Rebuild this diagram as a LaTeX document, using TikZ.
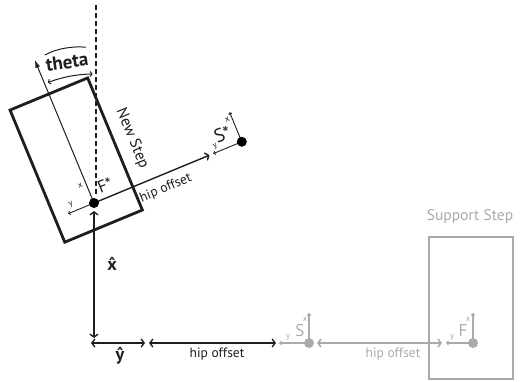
\documentclass[tikz,border=0pt]{standalone}
\usepackage{fontspec}
\setmainfont{PT Sans}
\usetikzlibrary{arrows.meta,calc}
\definecolor{sgray}{RGB}{170,170,170}
\definecolor{ink}{RGB}{30,30,30}
\newcommand\hatchar[1]{\leavevmode\accent"02C6 #1}
\begin{document}
\begin{tikzpicture}[x=1pt,y=-1pt,
  barb/.tip={Straight Barb[length=3pt,width=8pt]},
  smallbarb/.tip={Straight Barb[length=1.6pt,width=3.4pt]},
  dimarrow/.style={draw=ink,line width=1.4pt,{barb}-{barb}},
  onearrow/.style={draw=ink,line width=1.4pt,-{barb}},
  gdim/.style={draw=sgray,line width=1.6pt,{barb}-{barb}},
  axis/.style={draw=ink,line width=0.9pt,-{smallbarb}},
  gaxis/.style={draw=sgray,line width=1.2pt,-{smallbarb}},
  stepbox/.style={draw=ink,line width=2.8pt},
  gstepbox/.style={draw=sgray,line width=2.8pt},
  dot/.style={circle,fill=black,inner sep=0pt,minimum size=10pt},
  gdot/.style={circle,fill=sgray,inner sep=0pt,minimum size=10pt},
  lbl/.style={inner sep=0pt,text=ink},
  glbl/.style={inner sep=0pt,text=sgray},
  tiny/.style={inner sep=0pt,font=\fontsize{8.5}{8.5}\selectfont},
]
\useasboundingbox (0,0) rectangle (520,381);

% vertical reference line
\coordinate (Fs) at (94,203);
\coordinate (Top) at (96,5);
\coordinate (DashEnd) at (96,195);
\draw[ink,line width=1.1pt,dash pattern=on 5pt off 3pt] (Top) -- (DashEnd);

% rotated new-step frame
\begin{scope}[shift={(94,203)},rotate=22.5]
  \coordinate (FsX) at (0,-155);
  \coordinate (FsY) at (-28,0);
  \coordinate (HipEnd) at (125,0);
  \coordinate (Ss) at (160,0);
  \coordinate (SsX) at (160,-32);
  \coordinate (SsY) at (129,0);
  \draw[stepbox] (-42,-118) rectangle (42,25);
  \draw[draw=ink,line width=1pt,-{Latex[length=8pt,width=5pt]}] (0,0) -- (FsX);
  \draw[axis] (0,0) -- (FsY);
  \draw[onearrow] (0,0) -- (HipEnd);
  \draw[axis] (Ss) -- (SsX);
  \draw[axis] (Ss) -- (SsY);
  \node[lbl,transform shape,font=\fontsize{17}{17}\selectfont] (Fslbl) at (17,-12) {F*};
  \node[lbl,tiny,transform shape] (Fsx) at (-6,-21) {x};
  \node[lbl,tiny,transform shape] (Fsy) at (-22,-7) {y};
  \node[lbl,transform shape,font=\fontsize{13.5}{13.5}\selectfont] (hip1) at (72,14) {hip offset};
  \node[lbl,transform shape,font=\fontsize{19}{19}\selectfont] (Sslbl) at (145,-14) {S*};
  \node[lbl,tiny,transform shape] (Ssx) at (155,-26) {x};
  \node[lbl,tiny,transform shape] (Ssy) at (134,-6) {y};
  \node[lbl,transform shape,rotate=-90,font=\fontsize{15.5}{15.5}\selectfont] (newlbl) at (60,-45) {New Step};
\end{scope}
\node[dot] (FsDot) at (Fs) {};
\node[dot] (SsDot) at (Ss) {};

% theta
\draw[draw=ink,line width=1pt,{Straight Barb[length=2pt,width=5pt]}-{Straight Barb[length=2pt,width=5pt]}]
  ($(Fs)+(-111:129)$) arc[start angle=-111,end angle=-90.6,radius=129];
\begin{scope}[shift={(67,62)},rotate=8]
  \node[lbl,transform shape,font=\bfseries\fontsize{19}{19}\selectfont] (theta) at (0,0) {theta};
  \draw[ink,line width=1pt] (-21,-10) .. controls (-8,-15) and (8,-15) .. (21,-12);
\end{scope}

% world axes
\coordinate (O) at (94,343);
\coordinate (VTop) at (94,211);
\coordinate (VBot) at (94,338);
\coordinate (HLeft) at (91,343);
\coordinate (HRight) at (145,343);
\draw[dimarrow] (VTop) -- (VBot);
\draw[dimarrow] (HLeft) -- (HRight);
\node[lbl,font=\bfseries\fontsize{18}{18}\selectfont] (xhat) at (112,264) {\hatchar{x}};
\node[lbl,font=\bfseries\fontsize{18}{18}\selectfont] (yhat) at (120,356) {\hatchar{y}};

% hip offset (black)
\coordinate (H1) at (149,343);
\coordinate (H2) at (276,343);
\draw[dimarrow] (H1) -- (H2);
\node[lbl,font=\fontsize{13.5}{13.5}\selectfont] (hip2) at (217,354) {hip offset};

% gray S
\coordinate (S) at (309,343);
\coordinate (SX) at (309,313);
\coordinate (SY) at (279,343);
\draw[gaxis] (S) -- (SX);
\draw[gaxis] (S) -- (SY);
\node[gdot] (SDot) at (S) {};
\node[glbl,font=\fontsize{17}{17}\selectfont] (Slbl) at (300,331) {S};
\node[glbl,tiny] (Sx) at (305,319) {x};
\node[glbl,tiny] (Sy) at (288,337) {y};

% gray hip offset
\coordinate (G1) at (317,343);
\coordinate (G2) at (442,343);
\draw[gdim] (G1) -- (G2);
\node[glbl,font=\fontsize{13.5}{13.5}\selectfont] (hip3) at (393,354) {hip offset};

% support step
\draw[gstepbox] (429,237) rectangle (513,379);
\node[glbl,font=\fontsize{15.5}{15.5}\selectfont] (suplbl) at (470,217) {Support Step};
\coordinate (F) at (473,343);
\coordinate (FX) at (473,313);
\coordinate (FY) at (446,343);
\draw[gaxis] (F) -- (FX);
\draw[gaxis] (F) -- (FY);
\node[gdot] (FDot) at (F) {};
\node[glbl,font=\fontsize{17}{17}\selectfont] (Flbl) at (463,331) {F};
\node[glbl,tiny] (Fx) at (468,319) {x};
\node[glbl,tiny] (Fy) at (452,337) {y};
\end{tikzpicture}
\end{document}
